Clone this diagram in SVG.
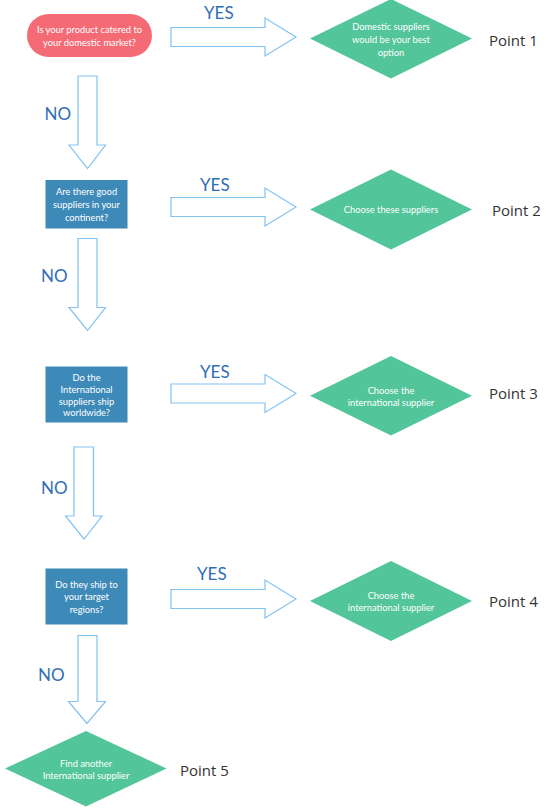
<svg xmlns="http://www.w3.org/2000/svg" width="547" height="810" viewBox="0 0 547 810">
<style>
.bg{fill:#ffffff}
.pill{fill:#f56b75}
.box{fill:#3d89b8}
.dia{fill:#52c59a}
.arr{fill:#ffffff;stroke:#82c3f0;stroke-width:1.2;stroke-linejoin:miter}
.nt{font-family:Lato,"Liberation Sans",sans-serif;font-size:9.3px;fill:#ffffff;text-anchor:middle}
.lbl{font-family:Lato,"Liberation Sans",sans-serif;font-size:17px;fill:#2f6db5}
.pt{font-family:"Open Sans","Liberation Sans",sans-serif;font-size:15px;fill:#333333}
</style>
<rect class="bg" x="0" y="0" width="547" height="810"/>
<g id="connectors">
<polygon class="arr" points="171,27.5 265,27.5 265,18 296,37 265,56 265,46.5 171,46.5"/>
<polygon class="arr" points="171,197.5 265,197.5 265,188 296,207 265,226 265,216.5 171,216.5"/>
<polygon class="arr" points="171,384 265,384 265,374.5 296,393.5 265,412.5 265,403 171,403"/>
<polygon class="arr" points="171,589.5 265,589.5 265,580 296,599 265,618 265,608.5 171,608.5"/>
<polygon class="arr" points="78,76 97,76 97,145 105.5,145 87.5,168.5 69,145 78,145"/>
<polygon class="arr" points="78,238.5 97,238.5 97,307.5 105.5,307.5 87.5,330.5 69,307.5 78,307.5"/>
<polygon class="arr" points="74,447 93.5,447 93.5,516 102,516 84,539 65.5,516 74,516"/>
<polygon class="arr" points="78,635.5 97,635.5 97,701.5 105.5,701.5 87,723.5 68.5,701.5 78,701.5"/>
<text class="lbl" x="204" y="18.5">YES</text>
<text class="lbl" x="200" y="191">YES</text>
<text class="lbl" x="200" y="377.5">YES</text>
<text class="lbl" x="197" y="579.5">YES</text>
<text class="lbl" x="44.5" y="119.5">NO</text>
<text class="lbl" x="41" y="282">NO</text>
<text class="lbl" x="41" y="494">NO</text>
<text class="lbl" x="38" y="681">NO</text>
</g>
<g id="n1">
<rect class="pill" x="27" y="14" width="125" height="43" rx="21.5"/>
<text class="nt" x="89.5" y="32.8">Is your product catered to</text>
<text class="nt" x="89.5" y="46.2">your domestic market?</text>
</g>
<g id="d1">
<polygon class="dia" points="391,-1 472,38.5 391,78.5 310,38.5"/>
<text class="nt" x="391" y="29.8">Domestic suppliers</text>
<text class="nt" x="391" y="42.8">would be your best</text>
<text class="nt" x="391" y="56.3">option</text>
</g>
<text id="p1" class="pt" x="489" y="45.5">Point 1</text>
<g id="n2">
<rect class="box" x="45.5" y="180" width="82" height="48.5"/>
<text class="nt" x="86.5" y="194.6">Are there good</text>
<text class="nt" x="86.5" y="207.8">suppliers in your</text>
<text class="nt" x="86.5" y="220.8">continent?</text>
</g>
<g id="d2">
<polygon class="dia" points="391,169.5 472,209.5 391,249.5 310,209.5"/>
<text class="nt" x="391" y="212.8">Choose these suppliers</text>
</g>
<text id="p2" class="pt" x="492" y="215.5">Point 2</text>
<g id="n3">
<rect class="box" x="45.5" y="366.5" width="82" height="56"/>
<text class="nt" x="86.5" y="380.9">Do the</text>
<text class="nt" x="86.5" y="392.7">International</text>
<text class="nt" x="86.5" y="404.6">suppliers ship</text>
<text class="nt" x="86.5" y="416.2">worldwide?</text>
</g>
<g id="d3">
<polygon class="dia" points="391,356 472,395.7 391,435.5 310,395.7"/>
<text class="nt" x="391" y="393.8">Choose the</text>
<text class="nt" x="391" y="405.7">international supplier</text>
</g>
<text id="p3" class="pt" x="489" y="399">Point 3</text>
<g id="n4">
<rect class="box" x="45.5" y="568.5" width="82" height="56"/>
<text class="nt" x="86.5" y="587.7">Do they ship to</text>
<text class="nt" x="86.5" y="600.3">your target</text>
<text class="nt" x="86.5" y="612.5">regions?</text>
</g>
<g id="d4">
<polygon class="dia" points="391,561 472,601 391,641 310,601"/>
<text class="nt" x="391" y="598.9">Choose the</text>
<text class="nt" x="391" y="610.8">international supplier</text>
</g>
<text id="p4" class="pt" x="489" y="607.3">Point 4</text>
<g id="d5">
<polygon class="dia" points="86,731 166.5,768.5 86,806.5 5,768.5"/>
<text class="nt" x="86" y="767.3">Find another</text>
<text class="nt" x="86" y="778.6">International supplier</text>
</g>
<text id="p5" class="pt" x="180" y="775.5">Point 5</text>
</svg>
